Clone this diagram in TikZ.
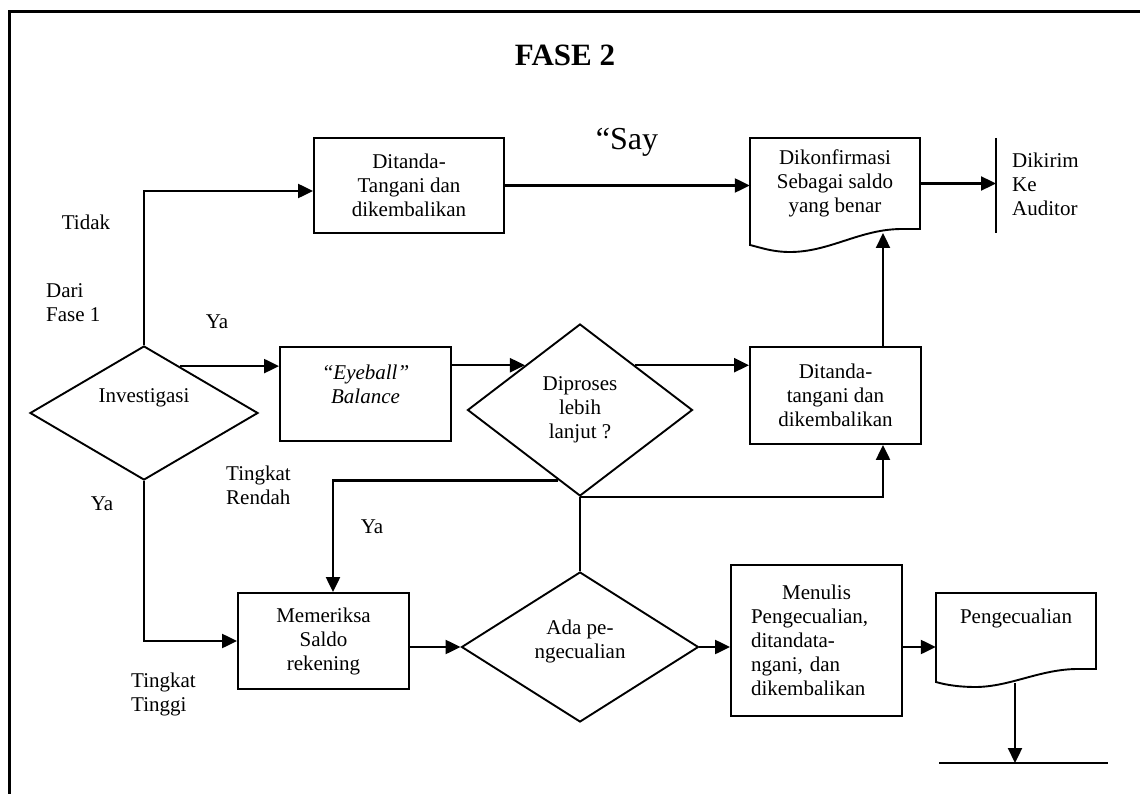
\documentclass[tikz,border=0pt]{standalone}
\usepackage{fontspec}
\setmainfont{Liberation Serif}
\usetikzlibrary{arrows.meta,calc,shapes.geometric}
\begin{document}
\begin{tikzpicture}[x=1pt,y=-1pt,
  every node/.style={font=\fontsize{21}{24}\selectfont, inner sep=0pt},
  box/.style={draw, line width=1.9pt, align=center},
  dia/.style={draw, diamond, line width=1.9pt, inner sep=0pt, align=center},
  doc/.style={draw, line width=1.9pt},
  ln/.style={line width=2.3pt},
  arr/.style={line width=2.3pt, -{Triangle[length=15pt,width=14pt]}}]
\useasboundingbox (0,0) rectangle (1140,794);

% frame
\draw[ln] (9.5,794) -- (9.5,11.5) -- (1140,11.5);

% title and free texts
\node[font=\bfseries\fontsize{31}{36}\selectfont] (title) at (565,55) {FASE 2};
\node[font=\fontsize{32}{36}\selectfont] (say) at (627,142) {“Say};
\node (tidak) at (86,222) {Tidak};
\node[anchor=west, align=left] (dari) at (46,303) {Dari\\Fase 1};
\node (ya1) at (217,322) {Ya};
\node[anchor=west, align=left] (rendah) at (226,485) {Tingkat\\Rendah};
\node (ya2) at (372,527) {Ya};
\node (ya3) at (102,504) {Ya};
\node[anchor=west, align=left] (tinggi) at (131,694) {Tingkat\\Tinggi};

% process boxes
\node[box, minimum width=190pt, minimum height=95pt] (b1) at (409,185.5) {Ditanda-\\Tangani dan\\dikembalikan};
\node[box, minimum width=171pt, minimum height=94pt,
  label={[yshift=10pt, align=center]center:{\textit{“Eyeball”}\\\textit{Balance}}}] (eb) at (365.5,394) {};
\node[box, minimum width=171pt, minimum height=97pt] (b3) at (835.5,395.5) {Ditanda-\\tangani dan\\dikembalikan};
\node[box, minimum width=171pt, minimum height=96pt] (mem) at (323.5,641) {Memeriksa\\Saldo\\rekening};
\node[box, minimum width=171pt, minimum height=151pt, text width=131pt, align=left] (mn) at (816.5,640.5)
  {\makebox[\linewidth]{Menulis}\\Pengecualian,\\ditandata-\\ngani, dan\\dikembalikan};

% decisions
\node[dia, minimum width=228pt, minimum height=134pt,
  label={[yshift=15pt]center:Investigasi}] (inv) at (144,413) {};
\node[dia, minimum width=225pt, minimum height=172pt] (pro) at (580,410) {Diproses\\lebih\\lanjut ?};
\node[dia, minimum width=237pt, minimum height=150pt,
  label={[yshift=6pt, align=center]center:{Ada pe-\\ngecualian}}] (ada) at (580,647) {};

% documents
\node[minimum width=170pt, minimum height=91pt, align=center] (d1) at (835,183.5) {Dikonfirmasi\\Sebagai saldo\\yang benar};
\draw[doc] (750,138) -- (920,138) -- (920,229) -- (902,229)
  .. controls (860,229) and (830,252) .. (790,252)
  .. controls (773,252) and (762,248) .. (750,245) -- cycle;
\node[minimum width=160pt, minimum height=76pt,
  label={[yshift=13pt]center:Pengecualian}] (exc) at (1016,631) {};
\draw[doc] (936,593) -- (1096,593) -- (1096,669) -- (1078,669)
  .. controls (1040,669) and (1010,687) .. (975,687)
  .. controls (960,687) and (946,685) .. (936,682) -- cycle;

% terminal lines
\coordinate (audtop) at (996,138);
\coordinate (audbot) at (996,233);
\coordinate (audm) at (996,183.5);
\draw[ln] (audtop) -- (audbot);
\node[anchor=west, align=left] (aud) at (1012,184) {Dikirim\\Ke\\Auditor};
\coordinate (endl) at (939,763);
\coordinate (endr) at (1108,763);
\coordinate (excend) at (1015,763);
\coordinate (excout) at (1015,683);
\draw[ln] (endl) -- (endr);

% connection points on shapes
\coordinate (d1in) at (883,233);
\coordinate (invp) at ($(inv.north)!0.31!(inv.east)$);
\coordinate (proin) at ($(pro.north)!0.485!(pro.west)$);
\coordinate (proout) at ($(pro.north)!0.485!(pro.east)$);
\coordinate (prol) at ($(pro.south)!0.19!(pro.west)$);

% connectors
\draw[arr] (inv.north) |- ($(b1.west)+(0,5.5)$);
\draw[arr] (b1.east) -- (b1.east -| d1.west);
\draw[arr] (d1.east) -- (audm);
\draw[arr] (invp) -- (invp -| eb.west);
\draw[arr] (proin -| eb.east) -- (proin);
\draw[arr] (proout) -- (proout -| b3.west);
\draw[arr] (b3.north -| d1in) -- (d1in);
\draw[arr] (pro.south) -| (b3.south -| d1in);
\draw[arr] (prol) -| ($(mem.north)+(9.5,0)$);
\draw[ln] (pro.south) -- (pro.south |- ada.north);
\draw[arr] (inv.south) |- (mem.west);
\draw[arr] (ada.west -| mem.east) -- (ada.west);
\draw[arr] (ada.east) -- (ada.east -| mn.west);
\draw[arr] (ada.east -| mn.east) -- (ada.east -| exc.west);
\draw[arr] (excout) -- (excend);
\end{tikzpicture}
\end{document}
